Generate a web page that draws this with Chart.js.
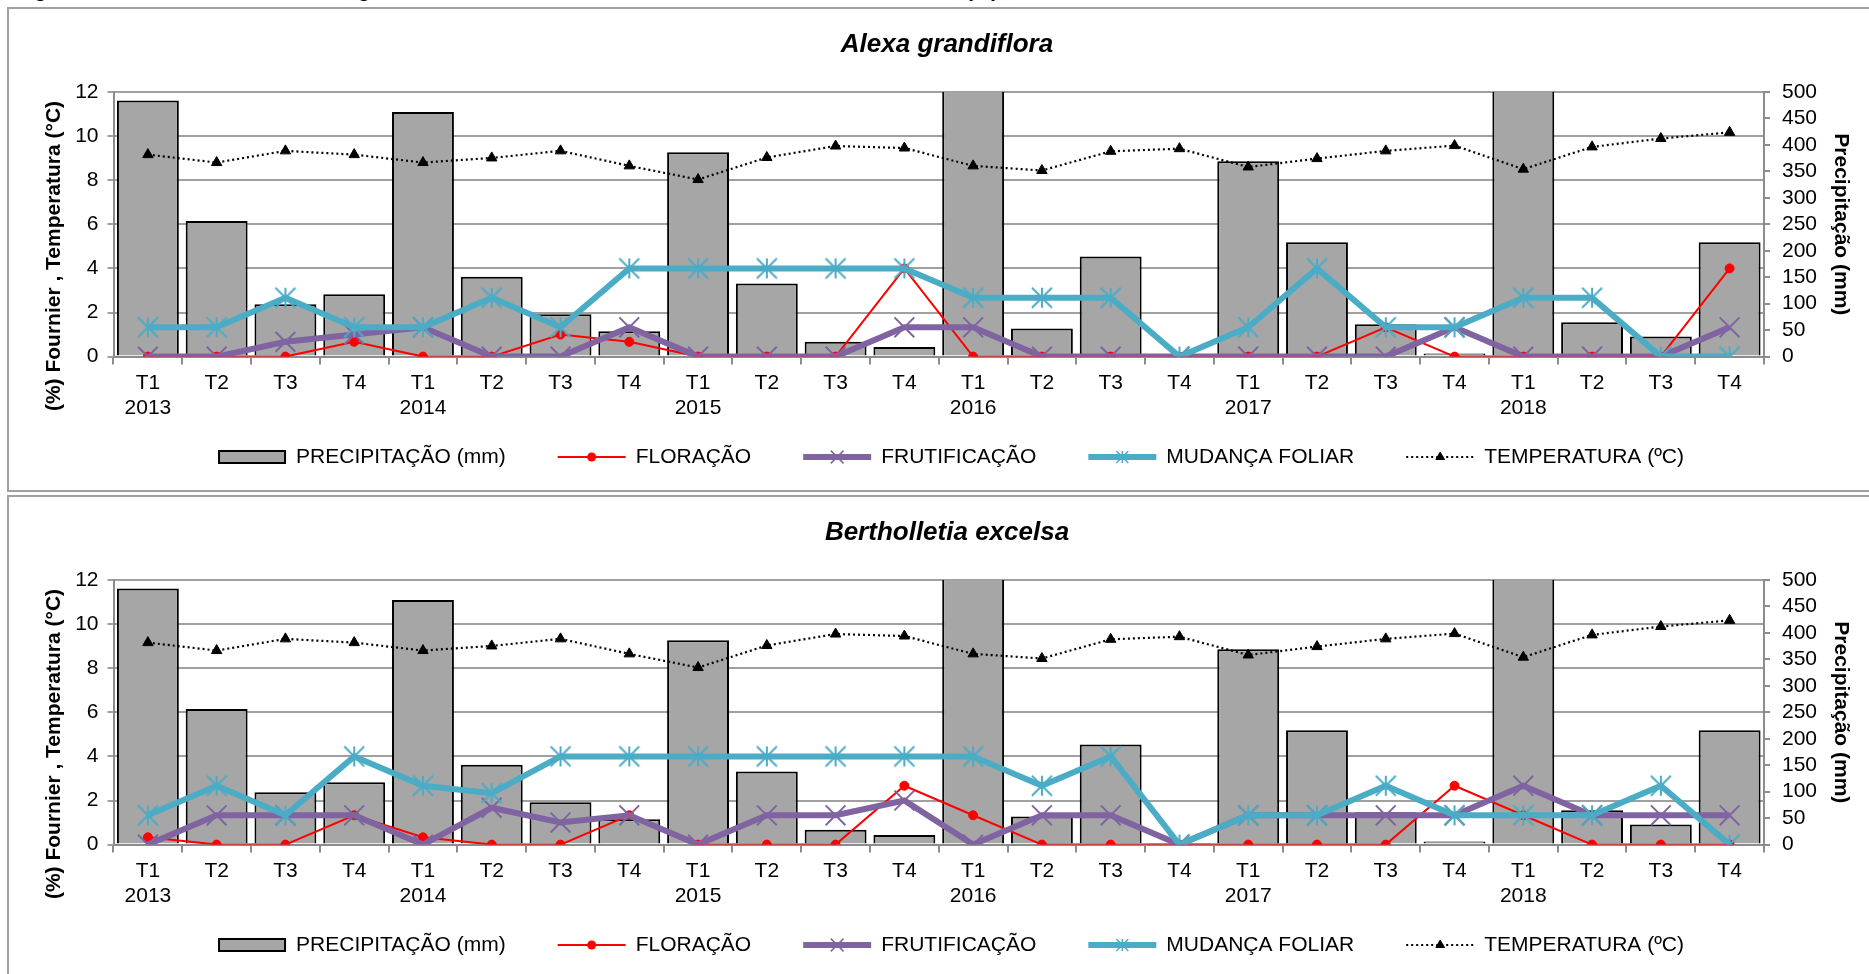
<!DOCTYPE html>
<html>
<head>
<meta charset="utf-8">
<script src="https://cdn.jsdelivr.net/npm/chart.js@4.4.1/dist/chart.umd.min.js"></script>
<style>
  html, body { margin: 0; padding: 0; background: #fff; width: 1869px; height: 974px; overflow: hidden; }
  .caption { position: absolute; left: 16px; top: -22px; font: bold 20.5px "Liberation Sans", Arial, sans-serif; line-height: 24px; white-space: nowrap; color: #000; }
  .box { position: absolute; left: 7px; width: 1900px; height: 481px; border: 2px solid #A0A0A0; }
  canvas { position: absolute; left: 10px; }
</style>
</head>
<body>
<div class="caption">Figura 4 – Dados trimestrais e fenograma com o índice de intensidade das fenofases de Fournier (%)</div>
<div class="box" style="top:7px"></div>
<div class="box" style="top:495px"></div>
<canvas id="chartAlexa" width="1874" height="483" style="top:8px"></canvas>
<canvas id="chartBerth" width="1874" height="483" style="top:496px"></canvas>
<script>
// dados trimestrais (T1..T4) de 2013 a 2018
const years = ['2013', '2014', '2015', '2016', '2017', '2018'];
const quarters = ['T1', 'T2', 'T3', 'T4'];

const precipitacao = [484, 256, 99, 118, 462, 151, 80, 48, 386, 138, 28, 18,
                      540, 53, 189, 3, 369, 216, 61, 6, 540, 65, 38, 216];
const temperatura = [9.16, 8.80, 9.33, 9.16, 8.80, 9.01, 9.33, 8.65, 8.03, 9.03, 9.55, 9.46,
                     8.65, 8.44, 9.31, 9.43, 8.60, 8.98, 9.33, 9.57, 8.50, 9.51, 9.89, 10.17];

// Alexa grandiflora
const floracaoAlexa = [0, 0, 0, 0.67, 0, 0, 1, 0.67, 0, 0, 0, 4,
                       0, 0, 0, 0, 0, 0, 1.33, 0, 0, 0, 0, 4];
const frutificacaoAlexa = [0, 0, 0.67, 1, 1.33, 0, 0, 1.33, 0, 0, 0, 1.33,
                           1.33, 0, 0, 0, 0, 0, 0, 1.33, 0, 0, 0, 1.33];
const mudancaAlexa = [1.33, 1.33, 2.67, 1.33, 1.33, 2.67, 1.33, 4, 4, 4, 4, 4,
                      2.67, 2.67, 2.67, 0, 1.33, 4, 1.33, 1.33, 2.67, 2.67, 0, 0];

// Bertholletia excelsa
const floracaoBerth = [0.33, 0, 0, 1.33, 0.33, 0, 0, 1.33, 0, 0, 0, 2.67,
                       1.33, 0, 0, 0, 0, 0, 0, 2.67, 1.33, 0, 0, 0];
const frutificacaoBerth = [0, 1.33, 1.33, 1.33, 0, 1.67, 1, 1.33, 0, 1.33, 1.33, 2,
                           0, 1.33, 1.33, 0, 1.33, 1.33, 1.33, 1.33, 2.67, 1.33, 1.33, 1.33];
const mudancaBerth = [1.33, 2.67, 1.33, 4, 2.67, 2.33, 4, 4, 4, 4, 4, 4,
                      4, 2.67, 4, 0, 1.33, 1.33, 2.67, 1.33, 1.33, 1.33, 2.67, 0];

const leftTicks = { min: 0, max: 12, step: 2 };
const rightTicks = { min: 0, max: 500, step: 50 };

const categories = [];
years.forEach(y => quarters.forEach((q, i) => categories.push(i === 0 ? [q, y] : q)));

const FONT = '"Liberation Sans", Arial, sans-serif';
const COLORS = { bar: '#A6A6A6', flor: '#FF0000', frut: '#8064A2', mud: '#4BACC6', temp: '#000000' };

// marcador asterisco (estilo Excel)
function drawAsterisk(g, x, y, r, lw, color) {
  g.save();
  g.strokeStyle = color;
  g.lineWidth = lw;
  g.beginPath();
  g.moveTo(x, y - r); g.lineTo(x, y + r);
  g.moveTo(x - r, y - r); g.lineTo(x + r, y + r);
  g.moveTo(x + r, y - r); g.lineTo(x - r, y + r);
  g.stroke();
  g.restore();
}
function asteriskImage(r, lw, color) {
  const c = document.createElement('canvas');
  const s = Math.ceil(2 * r + lw * 2);
  c.width = c.height = s;
  drawAsterisk(c.getContext('2d'), s / 2, s / 2, r, lw, color);
  return c;
}
const asterisk = asteriskImage(10, 2, COLORS.mud);

// títulos dos eixos
const axisTitles = {
  id: 'axisTitles',
  afterDraw(chart) {
    const ctx = chart.ctx;
    ctx.save();
    ctx.fillStyle = '#000';
    ctx.font = 'bold 21px ' + FONT;
    ctx.textAlign = 'center';
    ctx.textBaseline = 'middle';
    ctx.translate(44, 248);
    ctx.rotate(-Math.PI / 2);
    ctx.fillText('(%) Fournier , Temperatura (°C)', 0, 0);
    ctx.restore();
    ctx.save();
    ctx.fillStyle = '#000';
    ctx.font = 'bold 21px ' + FONT;
    ctx.textAlign = 'center';
    ctx.textBaseline = 'middle';
    ctx.translate(1831, (chart.chartArea.top + chart.chartArea.bottom) / 2);
    ctx.rotate(Math.PI / 2);
    ctx.fillText('Precipitação (mm)', 0, 0);
    ctx.restore();
  }
};

// legenda com linha + marcador
const lineLegend = {
  id: 'lineLegend',
  afterDraw(chart) {
    const ctx = chart.ctx;
    const dss = chart.data.datasets;
    const iconW = 68, gapIcon = 10, gapItem = 52, y = 449;
    ctx.save();
    ctx.font = '21px ' + FONT;
    const widths = dss.map(d => iconW + gapIcon + ctx.measureText(d.label).width);
    const total = widths.reduce((a, b) => a + b, 0) + gapItem * (dss.length - 1);
    let x = 941 - total / 2;
    dss.forEach((d, i) => {
      const cx = x + iconW / 2;
      if (d.type === 'bar') {
        ctx.fillStyle = COLORS.bar;
        ctx.fillRect(x + 1, y - 6, iconW - 2, 12);
        ctx.strokeStyle = '#000';
        ctx.lineWidth = 2;
        ctx.strokeRect(x + 1, y - 6, iconW - 2, 12);
      } else {
        ctx.save();
        ctx.strokeStyle = d.borderColor;
        ctx.lineWidth = d.borderWidth;
        if (d.borderDash) ctx.setLineDash(d.borderDash);
        ctx.beginPath();
        ctx.moveTo(x, y); ctx.lineTo(x + iconW, y);
        ctx.stroke();
        ctx.restore();
        if (d.label === 'FLORAÇÃO') {
          ctx.fillStyle = d.borderColor;
          ctx.beginPath(); ctx.arc(cx, y, 4.5, 0, Math.PI * 2); ctx.fill();
        } else if (d.label === 'FRUTIFICAÇÃO') {
          ctx.strokeStyle = d.borderColor; ctx.lineWidth = 1.5;
          Chart.helpers.drawPoint(ctx, { pointStyle: 'crossRot', radius: 9, borderWidth: 1.5 }, cx, y);
        } else if (d.label === 'MUDANÇA FOLIAR') {
          drawAsterisk(ctx, cx, y, 6, 1.5, d.borderColor);
        } else {
          ctx.fillStyle = '#000'; ctx.strokeStyle = '#000'; ctx.lineWidth = 1;
          Chart.helpers.drawPoint(ctx, { pointStyle: 'triangle', radius: 5, borderWidth: 1 }, cx, y);
        }
      }
      ctx.fillStyle = '#000';
      ctx.textAlign = 'left';
      ctx.textBaseline = 'middle';
      ctx.fillText(d.label, x + iconW + gapIcon, y);
      x += widths[i] + gapItem;
    });
    ctx.restore();
  }
};

function makeChart(id, title, flor, frut, mud) {
  return new Chart(document.getElementById(id), {
    type: 'bar',
    data: {
      labels: categories,
      datasets: [
        {
          type: 'bar', label: 'PRECIPITAÇÃO (mm)', data: precipitacao, yAxisID: 'yP',
          backgroundColor: COLORS.bar, borderColor: '#000', borderWidth: 2, borderSkipped: 'bottom',
          barPercentage: 1, categoryPercentage: 0.9, order: 5, clip: 0
        },
        {
          type: 'line', label: 'FLORAÇÃO', data: flor, yAxisID: 'y',
          borderColor: COLORS.flor, backgroundColor: COLORS.flor, borderWidth: 2,
          pointStyle: 'circle', pointRadius: 4.5, pointBorderWidth: 1, order: 4
        },
        {
          type: 'line', label: 'FRUTIFICAÇÃO', data: frut, yAxisID: 'y',
          borderColor: COLORS.frut, backgroundColor: COLORS.frut, borderWidth: 6,
          pointStyle: 'crossRot', pointRadius: 14, pointBorderWidth: 2, order: 3
        },
        {
          type: 'line', label: 'MUDANÇA FOLIAR', data: mud, yAxisID: 'y',
          borderColor: COLORS.mud, backgroundColor: COLORS.mud, borderWidth: 6,
          pointStyle: asterisk, pointRadius: 10, order: 2
        },
        {
          type: 'line', label: 'TEMPERATURA (ºC)', data: temperatura, yAxisID: 'y',
          borderColor: COLORS.temp, backgroundColor: COLORS.temp, borderWidth: 2.2, borderDash: [2, 3],
          pointStyle: 'triangle', pointRadius: 6, pointBorderWidth: 1, order: 1
        }
      ]
    },
    options: {
      responsive: false,
      animation: false,
      devicePixelRatio: 1,
      layout: { padding: { top: 0, bottom: 64, left: 0, right: 0 } },
      plugins: {
        legend: { display: false },
        tooltip: { enabled: false },
        title: {
          display: true, text: title, color: '#000',
          font: { family: FONT, size: 26, weight: 'bold', style: 'italic' },
          padding: { top: 21.4, bottom: 31.4 }
        }
      },
      scales: {
        x: {
          offset: true,
          grid: { drawOnChartArea: false, drawTicks: true, tickLength: 8, offset: true, color: '#8C8C8C', lineWidth: 2 },
          border: { color: '#8C8C8C', width: 2 },
          ticks: { color: '#000', font: { family: FONT, size: 21 }, padding: 6, maxRotation: 0, autoSkip: false }
        },
        y: {
          position: 'left', min: leftTicks.min, max: leftTicks.max,
          ticks: { stepSize: leftTicks.step, color: '#000', font: { family: FONT, size: 21 }, padding: 9, autoSkip: false },
          grid: { color: '#A0A0A0', lineWidth: 2, tickLength: 6 },
          border: { color: '#8C8C8C', width: 2 },
          afterFit: s => { s.width = 103.5; }
        },
        yP: {
          position: 'right', min: rightTicks.min, max: rightTicks.max,
          ticks: { stepSize: rightTicks.step, color: '#000', font: { family: FONT, size: 21 }, padding: 12, autoSkip: false },
          grid: { drawOnChartArea: false, tickLength: 6, color: '#8C8C8C', lineWidth: 2 },
          border: { color: '#8C8C8C', width: 2 },
          afterFit: s => { s.width = 120; }
        }
      }
    },
    plugins: [axisTitles, lineLegend]
  });
}

makeChart('chartAlexa', 'Alexa grandiflora', floracaoAlexa, frutificacaoAlexa, mudancaAlexa);
makeChart('chartBerth', 'Bertholletia excelsa', floracaoBerth, frutificacaoBerth, mudancaBerth);
</script>
</body>
</html>
